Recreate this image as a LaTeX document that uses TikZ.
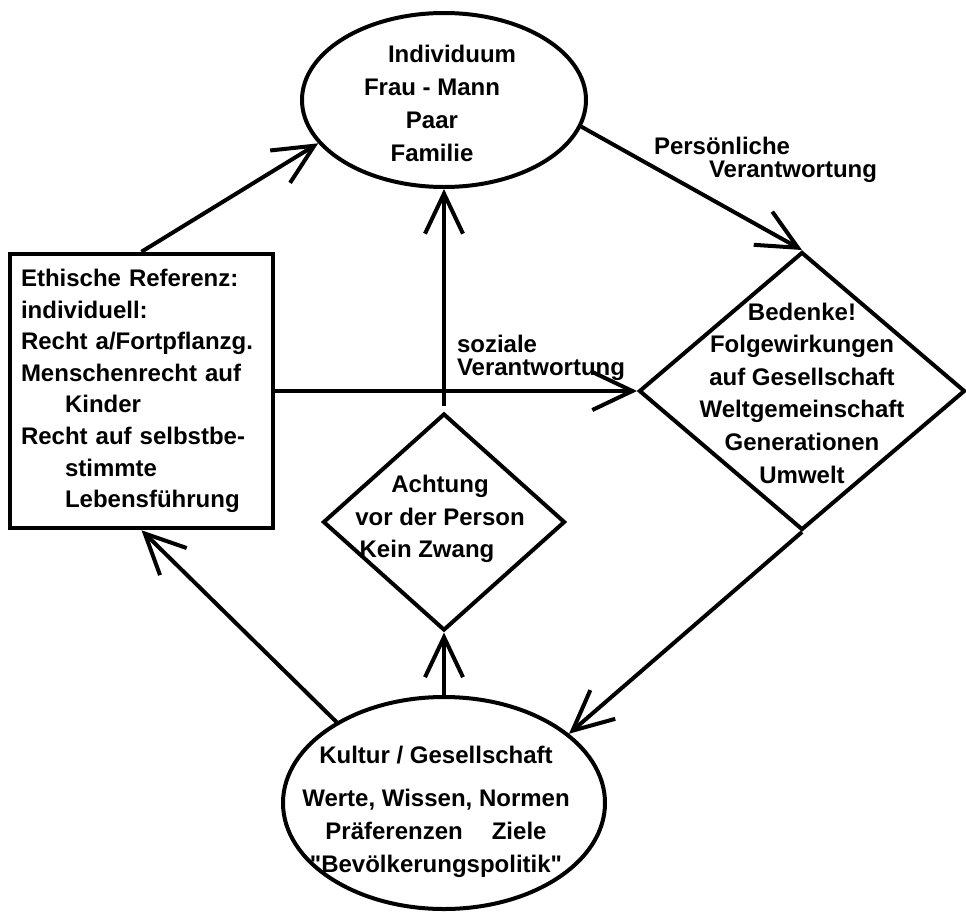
\documentclass[tikz,border=0pt]{standalone}
\usepackage{fontspec}
\setmainfont{Liberation Sans}[Ligatures=TeXOff]
\usetikzlibrary{shapes.geometric,arrows.meta}

\begin{document}
\begin{tikzpicture}[x=1pt,y=-1pt,line width=4pt,
		ell/.style={draw, ellipse, inner sep=0pt},
		raute/.style={draw, diamond, inner sep=0pt},
		txt/.style={font=\fontsize{24}{33}\selectfont\bfseries, align=center, inner sep=0pt},
		lbl/.style={font=\fontsize{24}{23}\selectfont\bfseries, align=left, inner sep=0pt, anchor=west},
		arr/.style={-{Straight Barb[length=40pt,width=38pt]}}]
			\useasboundingbox (0,0) rectangle (966,913);

			% shapes
			\node[ell, minimum width=284pt, minimum height=174pt] (indiv) at (444,100) {};
			\node[ell, minimum width=322pt, minimum height=212pt] (kultur) at (444,803) {};
			\node[raute, minimum width=326pt, minimum height=278pt] (bed) at (802,391) {};
			\node[raute, minimum width=242pt, minimum height=217pt] (achtung) at (444,522) {};
			\node[draw, rectangle, line width=4.5pt, minimum width=263pt, minimum height=274pt,
				text width=241pt, inner xsep=11pt, inner ysep=0pt, align=left,
				font=\fontsize{24}{31.6}\selectfont\bfseries] (ethik) at (141.5,391)
				{Ethische Referenz:\\individuell:\\Recht a/Fortpflanzg.\\Menschenrecht auf\\
				\hspace*{44pt}Kinder\\Recht auf selbstbe-\\\hspace*{44pt}stimmte\\\hspace*{44pt}Lebensführung};

			% node texts
			\node[txt] (indivtxt) at (432,103) {\hspace*{40pt}Individuum\\Frau - Mann\\Paar\\Familie};
			\node[txt] (kulturtxt) at (436,812) {Kultur / Gesellschaft\\[10pt]Werte, Wissen, Normen\\
				Präferenzen\hspace{29pt}Ziele\\"Bevölkerungspolitik"};
			\node[txt, font=\fontsize{24}{32.6}\selectfont\bfseries] (bedtxt) at (802,393)
				{Bedenke!\\Folgewirkungen\\auf Gesellschaft\\Weltgemeinschaft\\Generationen\\Umwelt};
			\node[txt, font=\fontsize{24}{32.5}\selectfont\bfseries] (achtungtxt) at (440,519)
				{Achtung\\vor der Person\\Kein Zwang\hspace*{26pt}};

			% arrows
			\draw[arr] (ethik.north) -- (indiv.199);
			\draw[arr] (indiv.-11) -- (bed.north);
			\draw[arr] (ethik.east) -- (bed.west);
			\draw[arr, shorten <=6pt] (achtung.north) -- (indiv.south);
			\draw[arr] (kultur.north) -- (achtung.south);
			\draw[arr] (kultur.143) -- (ethik.south);
			\draw[arr] (bed.south) -- (kultur.29);

			% line labels
			\node[lbl] (perslbl) at (652,160) {Persönliche\\\hspace*{55pt}Verantwortung};
			\node[lbl] (soziallbl) at (455,358) {soziale\\Verantwortung};
		\end{tikzpicture}
\end{document}
